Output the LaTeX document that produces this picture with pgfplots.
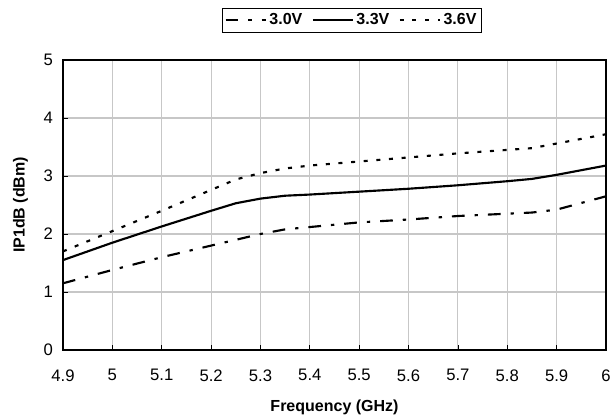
\documentclass[border=0pt]{standalone}
\usepackage{fontspec}
\setmainfont{Liberation Sans}
\usepackage{pgfplots}
\pgfplotsset{compat=1.18}

\pgfplotstableread{
f     v30   v33   v36
4.90  1.15  1.55  1.70
5.00  1.38  1.85  2.05
5.10  1.60  2.13  2.40
5.20  1.80  2.40  2.76
5.25  1.90  2.53  2.94
5.30  2.00  2.61  3.05
5.35  2.08  2.66  3.13
5.40  2.12  2.68  3.18
5.50  2.20  2.73  3.25
5.60  2.25  2.78  3.32
5.70  2.31  2.84  3.39
5.80  2.35  2.91  3.45
5.85  2.37  2.95  3.48
5.90  2.42  3.02  3.56
6.00  2.65  3.18  3.72
}\ipdata

\begin{document}
\begin{tikzpicture}
\begin{axis}[
    scale only axis,
    width=407.25pt, height=217.5pt,
    xmin=4.9, xmax=6, ymin=0, ymax=5,
    xtick={4.9,5,...,6.01},
    ytick={0,1,...,5},
    xticklabel style={/pgf/number format/fixed, /pgf/number format/precision=1},
    /pgf/number format/assume math mode=true,
    tick label style={font=\fontsize{12.5}{14}\selectfont},
    xticklabel style={yshift=-11pt},
    yticklabel style={xshift=-4pt},
    tick pos=left, tick align=inside,
    major tick length=4pt,
    major tick style={black, line width=0.6pt},
    grid=major,
    grid style={draw=black!22, line width=0.8pt},
    axis line style={black, line width=0.8pt},
    xlabel={\textbf{Frequency (GHz)}},
    ylabel={\textbf{IP1dB (dBm)}},
    label style={font=\fontsize{12}{14}\selectfont},
    xlabel style={yshift=-7pt},
    ylabel style={yshift=5pt},
    legend columns=3,
    legend style={at={(0.532,1.179)}, anchor=north, draw=black, line width=0.6pt,
        font=\bfseries\fontsize{12}{13}\selectfont, inner sep=2pt,
        /tikz/every even column/.append style={column sep=5pt}},
    legend image code/.code={\draw[#1] (0pt,0pt) -- (30pt,0pt);},
]
\addplot[black, line width=1.6pt, dash pattern=on 9.5pt off 7.5pt on 2.5pt off 7.5pt] table[x=f, y=v30] {\ipdata};
\addlegendentry{3.0V}
\addplot[black, line width=1.6pt] table[x=f, y=v33] {\ipdata};
\addlegendentry{3.3V}
\addplot[black, line width=1.6pt, dash pattern=on 3pt off 6.5pt] table[x=f, y=v36] {\ipdata};
\addlegendentry{3.6V}
\end{axis}
\pgfresetboundingbox
\useasboundingbox (-47.25pt,-50.25pt) rectangle (411pt,262.5pt);
\end{tikzpicture}
\end{document}
